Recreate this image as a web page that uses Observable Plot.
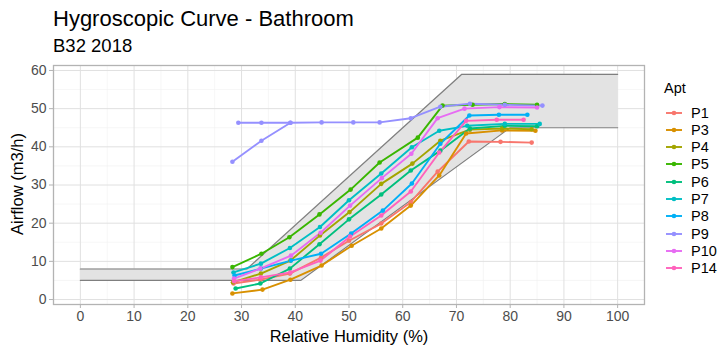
<!DOCTYPE html>
<html>
<head>
<meta charset="utf-8">
<script src="https://cdn.jsdelivr.net/npm/d3@7"></script>
<script src="https://cdn.jsdelivr.net/npm/@observablehq/plot@0.6"></script>
<style>
  body { margin: 0; background: #fff; }
  #wrap { position: relative; width: 720px; height: 347px; font-family: "Liberation Sans", Arial, sans-serif; color: #000; overflow: hidden; }
  #header { position: relative; height: 55px; }
  .abs { position: absolute; white-space: nowrap; line-height: 1; }
</style>
</head>
<body>
<div id="wrap">
  <div id="header">
    <div class="abs" style="left:53px;top:8px;font-size:22px;">Hygroscopic Curve - Bathroom</div>
    <div class="abs" style="left:53px;top:37px;font-size:18.5px;">B32 2018</div>
  </div>
  <div id="chart"></div>
  <div class="abs" id="xtitle" style="left:349px;top:328px;font-size:16.5px;transform:translateX(-50%);">Relative Humidity (%)</div>
  <div class="abs" id="ytitle" style="left:17px;top:184px;font-size:16.5px;transform:translate(-50%,-50%) rotate(-90deg);">Airflow (m3/h)</div>
  <div id="legend"></div>
</div>
<script>
// ---- data ----
const apts   = ["P1","P3","P4","P5","P6","P7","P8","P9","P10","P14"];
const colors = ["#F8766D","#D89000","#A3A500","#39B600","#00BF7D","#00BFC4","#00B0F6","#9590FF","#E76BF3","#FF62BC"];
const xTicks = [0,10,20,30,40,50,60,70,80,90,100];
const yTicks = [0,10,20,30,40,50,60];

// reference band (upper and lower edges)
const bandUpperX = [0, 31, 71, 100];
const bandUpperY = [8, 8, 59, 59];
const bandLowerX = [0, 41, 80, 100];
const bandLowerY = [5, 5, 45, 45];

const rhP1   = [28.5,33.5,39.0,44.8,50.0,56.0,61.5,66.5,72.3,78.2,84.0];
const flowP1 = [4.2,5.2,6.8,11.0,15.4,19.9,25.5,33.5,41.4,41.3,41.1];
const rhP3   = [28.3,33.9,39.1,44.9,50.5,56.0,61.5,66.8,71.8,78.5,84.7];
const flowP3 = [1.6,2.6,5.2,8.9,14.1,18.6,24.6,32.5,43.5,44.3,44.2];
const rhP4   = [28.4,33.6,39.1,44.6,50.1,56.0,61.8,67.0,72.5,78.5,84.0];
const flowP4 = [4.5,6.8,10.2,16.8,22.9,30.3,35.6,41.6,44.5,44.8,44.6];
const rhP5   = [28.3,33.7,38.9,44.5,50.3,55.7,62.8,67.4,73.0,79.0,85.0];
const flowP5 = [8.5,12.0,16.3,22.3,28.8,35.9,42.4,50.8,51.0,51.2,51.0];
const rhP6   = [28.9,33.5,39.0,44.5,50.0,56.0,61.5,67.0,72.5,79.0,85.0];
const flowP6 = [2.9,4.2,8.1,14.5,21.0,27.5,33.8,39.0,44.8,45.5,45.4];
const rhP7   = [28.5,33.6,39.0,44.6,50.0,56.0,61.7,66.8,72.0,79.0,85.5];
const flowP7 = [7.1,9.4,13.5,19.0,26.0,33.0,39.9,44.2,45.5,46.0,46.0];
const rhP8   = [28.7,33.6,39.2,44.8,50.4,56.3,61.7,67.0,72.4,77.9,83.2];
const flowP8 = [6.3,8.1,10.2,12.0,17.3,23.3,30.4,40.8,48.2,48.4,48.4];
const rhP9   = [28.3,33.7,39.1,44.9,50.8,55.7,61.5,67.0,72.5,79.0,86.0];
const flowP9 = [36.1,41.6,46.3,46.4,46.4,46.4,47.5,50.5,51.3,51.0,50.8];
const rhP9b   = [29.4,33.7,39.1];
const flowP9b = [46.3,46.3,46.3];
const rhP10   = [28.6,33.5,39.2,44.7,50.2,56.1,61.6,66.5,71.5,78.0,85.0];
const flowP10 = [5.5,8.1,11.5,17.5,24.6,31.8,38.2,47.5,50.0,50.4,50.3];
const rhP14   = [28.6,33.6,39.1,44.7,50.2,56.0,61.5,66.8,71.8,77.5,82.5];
const flowP14 = [4.8,5.8,7.1,10.2,16.5,22.0,28.3,38.5,46.8,47.1,47.1];

const series = [
  ["P1","P1",rhP1,flowP1],["P3","P3",rhP3,flowP3],["P4","P4",rhP4,flowP4],
  ["P5","P5",rhP5,flowP5],["P6","P6",rhP6,flowP6],["P7","P7",rhP7,flowP7],
  ["P8","P8",rhP8,flowP8],["P9","P9",rhP9,flowP9],["P9","P9b",rhP9b,flowP9b],
  ["P10","P10",rhP10,flowP10],["P14","P14",rhP14,flowP14]
];
const rows = series.flatMap(([apt, grp, xs, ys]) => xs.map((x, i) => ({apt, grp, rh: x, flow: ys[i]})));
const band = bandUpperX.map((x, i) => ({ux: x, uy: bandUpperY[i], lx: bandLowerX[i], ly: bandLowerY[i]}));
const upper = bandUpperX.map((x, i) => ({x, y: bandUpperY[i]}));
const lower = bandLowerX.map((x, i) => ({x, y: bandLowerY[i]}));

const xMinor = d3.range(5, 101, 10);
const yMinor = d3.range(5, 61, 10);

const plot = Plot.plot({
  width: 720,
  height: 292,
  marginLeft: 53,
  marginRight: 76,
  marginTop: 10,
  marginBottom: 43,
  x: {domain: [-5, 105], axis: null},
  y: {domain: [-1.3, 61.3], axis: null},
  color: {domain: apts, range: colors},
  style: {fontFamily: "'Liberation Sans', Arial, sans-serif", fontSize: "13px", background: "#fff"},
  marks: [
    Plot.ruleX(xMinor, {stroke: "#f0f0f0", strokeWidth: 0.6}),
    Plot.ruleY(yMinor, {stroke: "#f0f0f0", strokeWidth: 0.6}),
    Plot.ruleX(xTicks, {stroke: "#e0e0e0", strokeWidth: 1}),
    Plot.ruleY(yTicks, {stroke: "#e0e0e0", strokeWidth: 1}),
    Plot.area(band, {x1: "lx", y1: "ly", x2: "ux", y2: "uy", fill: "#e3e3e3", curve: "linear"}),
    Plot.line(upper, {x: "x", y: "y", stroke: "#7f7f7f", strokeWidth: 1.2}),
    Plot.line(lower, {x: "x", y: "y", stroke: "#7f7f7f", strokeWidth: 1.2}),
    Plot.line(rows, {x: "rh", y: "flow", z: "grp", stroke: "apt", strokeWidth: 1.9, curve: "linear"}),
    Plot.dot(rows, {x: "rh", y: "flow", fill: "apt", r: 2.3}),
    Plot.frame({stroke: "#b3b3b3", strokeWidth: 1.3}),
    Plot.axisX({ticks: xTicks, tickSize: 4, tickPadding: 3, stroke: "#b3b3b3", fill: "#4d4d4d", label: null, fontSize: 14}),
    Plot.axisY({ticks: yTicks, tickSize: 4, tickPadding: 3, stroke: "#b3b3b3", fill: "#4d4d4d", label: null, fontSize: 14})
  ]
});
document.getElementById("chart").appendChild(plot);

// legend
const leg = document.getElementById("legend");
const title = document.createElement("div");
title.className = "abs";
title.style.cssText = "left:664px;top:81px;font-size:14.5px;";
title.textContent = "Apt";
leg.appendChild(title);
apts.forEach((a, i) => {
  const cy = 112.5 + i * 17.3;
  const key = document.createElementNS("http://www.w3.org/2000/svg", "svg");
  key.setAttribute("width", 18); key.setAttribute("height", 10);
  key.style.cssText = `position:absolute;left:665px;top:${cy - 5}px;`;
  key.innerHTML = `<line x1="1" y1="5" x2="17" y2="5" stroke="${colors[i]}" stroke-width="1.9"/><circle cx="9" cy="5" r="2.3" fill="${colors[i]}"/>`;
  leg.appendChild(key);
  const lab = document.createElement("div");
  lab.className = "abs";
  lab.style.cssText = `left:691px;top:${cy - 7}px;font-size:14.5px;`;
  lab.textContent = a;
  leg.appendChild(lab);
});
</script>
</body>
</html>
